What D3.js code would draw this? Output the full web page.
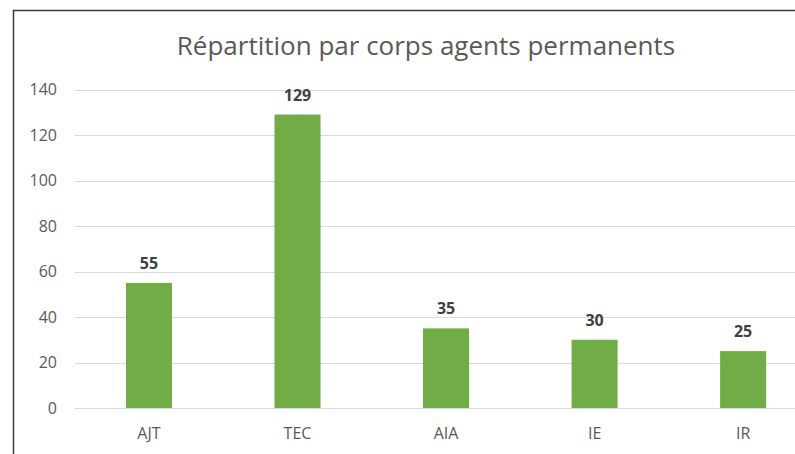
<!DOCTYPE html>
<html><head><meta charset="utf-8">
<script src="https://cdn.jsdelivr.net/npm/d3@7"></script>
<style>body{margin:0;background:#fff}svg{display:block}</style>
</head><body>
<script>
const categories = ["AJT","TEC","AIA","IE","IR"];
const values = [55,129,35,30,25];
const yTicks = [0,20,40,60,80,100,120,140];
const title = "Répartition par corps agents permanents";

const W = 795, H = 454;
const svg = d3.select("body").append("svg").attr("width", W).attr("height", H);
const font = "'Open Sans', 'Noto Sans', sans-serif";

// frame
svg.append("path").attr("d", `M13.5,${H} V10.5 H${W}`).attr("fill","none").attr("stroke","#3a3a3a").attr("stroke-width",1.5);

const x = d3.scaleBand().domain(categories).range([74.7, 817.4]).paddingInner(0.69).paddingOuter(0.345);
const y = d3.scaleLinear().domain([0,140]).range([408, 89.5]);

// grid
svg.append("g").selectAll("line").data(yTicks).join("line")
  .attr("x1", 74.7).attr("x2", 817.4)
  .attr("y1", d => Math.round(y(d))+0.5).attr("y2", d => Math.round(y(d))+0.5)
  .attr("stroke", "#d9d9d9").attr("stroke-width", 1);

// y axis labels
const yAxis = d3.axisLeft(y).tickValues(yTicks).tickSize(0).tickPadding(0);
const gy = svg.append("g").attr("transform","translate(57,0)").call(yAxis);
gy.select(".domain").remove();
gy.selectAll("text").attr("font-family", font).attr("font-size", 16).attr("fill","#595959");

// bars
svg.append("g").selectAll("rect").data(values).join("rect")
  .attr("x", (d,i) => x(categories[i])).attr("width", x.bandwidth())
  .attr("y", d => y(d)).attr("height", d => y(0) - y(d))
  .attr("fill", "#70ad47");

// value labels
svg.append("g").selectAll("text").data(values).join("text")
  .attr("x", (d,i) => x(categories[i]) + x.bandwidth()/2)
  .attr("y", d => y(d) - 14)
  .attr("text-anchor","middle").attr("font-family", font).attr("font-weight","bold")
  .attr("font-size", 16).attr("fill","#404040").text(d => d);

// x axis labels
const xAxis = d3.axisBottom(x).tickSize(0).tickPadding(0);
const gx = svg.append("g").call(xAxis);
gx.select(".domain").remove();
gx.selectAll("text").attr("y", 439).attr("dy", null)
  .attr("font-family", font).attr("font-size", 16).attr("fill","#595959");

// title
svg.append("text").attr("x", 426).attr("y", 55).attr("text-anchor","middle")
  .attr("font-family", font).attr("font-size", 26).attr("fill","#595959").text(title);
</script>
</body></html>
